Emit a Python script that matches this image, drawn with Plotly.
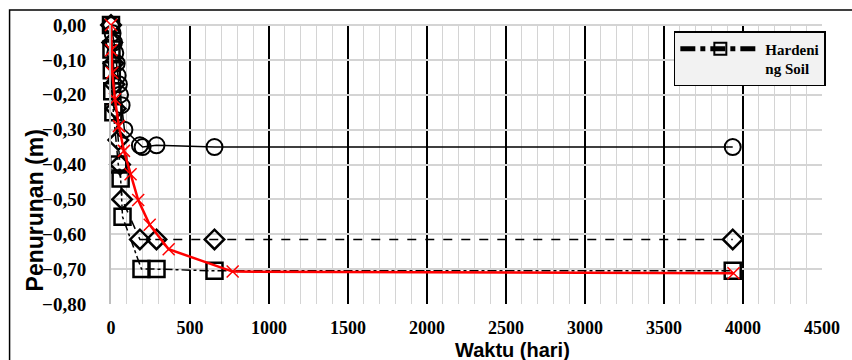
import plotly.graph_objects as go

# ---- data ----
t_circle = [0, 10, 19, 27, 36, 42, 50, 57, 67, 85, 183, 200, 288, 655, 3935]
s_circle = [0, -0.024, -0.05, -0.08, -0.11, -0.145, -0.17, -0.20, -0.23, -0.30, -0.345, -0.35, -0.345, -0.35, -0.35]

t_diamond = [0, 8, 15, 22, 30, 46, 57, 70, 183, 288, 655, 3935]
s_diamond = [0, -0.05, -0.11, -0.17, -0.24, -0.33, -0.40, -0.50, -0.615, -0.615, -0.615, -0.615]

t_square = [0, 3, 5, 8, 15, 46, 61, 73, 193, 288, 655, 3935]
s_square = [0, -0.07, -0.13, -0.19, -0.25, -0.40, -0.44, -0.55, -0.70, -0.70, -0.705, -0.705]

t_red = [0, 2, 8, 25, 50, 82, 124, 172, 245, 365, 770, 3940]
s_red = [0, -0.072, -0.137, -0.213, -0.29, -0.361, -0.428, -0.502, -0.573, -0.643, -0.707, -0.712]

legend_name = "Hardeni<br>ng Soil"
x_title = "Waktu (hari)"
y_title = "Penurunan (m)"

SERIF = "Liberation Serif, Times New Roman, serif"
SANS = "Liberation Sans, Arial, sans-serif"

fig = go.Figure()

fig.add_trace(go.Scatter(
    x=t_circle, y=s_circle, mode="lines+markers", showlegend=False, cliponaxis=False,
    line=dict(color="black", width=1.5),
    marker=dict(symbol="circle-open", size=16, color="black", line=dict(width=2)),
))
fig.add_trace(go.Scatter(
    x=t_diamond, y=s_diamond, mode="lines+markers", showlegend=False, cliponaxis=False,
    line=dict(color="black", width=1.5, dash="dash"),
    marker=dict(symbol="diamond-open", size=15, color="black", line=dict(width=2.5)),
))
fig.add_trace(go.Scatter(
    x=t_square, y=s_square, mode="lines+markers", name=legend_name, showlegend=True, cliponaxis=False,
    line=dict(color="black", width=1.5, dash="dashdot"),
    marker=dict(symbol="square-open", size=16, color="black", line=dict(width=2.5)),
))
fig.add_trace(go.Scatter(
    x=t_red, y=s_red, mode="lines+markers", showlegend=False, cliponaxis=False,
    line=dict(color="#ff0000", width=2.5),
    marker=dict(symbol="x-thin-open", size=12, color="#ff0000", line=dict(width=1.5, color="#ff0000")),
))

fig.update_layout(
    width=852, height=360,
    margin=dict(l=111, r=26, t=25, b=56),
    plot_bgcolor="white", paper_bgcolor="white",
    separators=",.",
    showlegend=True,
    legend=dict(
        x=(677 - 111) / 715, y=(304 - 31) / 279, xanchor="left", yanchor="top",
        bgcolor="#f2f2f2", bordercolor="black", borderwidth=1.5,
        font=dict(family=SERIF, size=15, color="black", weight="bold"),
        itemsizing="constant", valign="top", itemwidth=80,
        tracegroupgap=0,
    ),
    xaxis=dict(
        range=[0, 4500], dtick=500, tick0=0,
        showgrid=True, gridcolor="black", gridwidth=1.5,
        minor=dict(dtick=100, showgrid=True, gridcolor="#d4d4d4", gridwidth=1),
        zeroline=True, zerolinecolor="#bfbfbf", zerolinewidth=2,
        showline=False, ticks="", ticklabelstandoff=11,
        tickfont=dict(family=SERIF, size=18, color="black", weight="bold"),
    ),
    yaxis=dict(
        range=[-0.8, 0], dtick=0.1, tick0=0, tickformat=".2f",
        showgrid=True, gridcolor="#d4d4d4", gridwidth=1.5,
        zeroline=True, zerolinecolor="#d4d4d4", zerolinewidth=1.5,
        showline=True, linecolor="#bfbfbf", linewidth=2,
        ticks="", ticklabelstandoff=19,
        tickfont=dict(family=SERIF, size=19, color="black", weight="bold"),
    ),
    annotations=[
        dict(text=x_title, xref="paper", yref="paper", x=(515 - 111) / 715, y=(304 - 350) / 279,
             xanchor="center", yanchor="middle", showarrow=False,
             font=dict(family=SANS, size=20, color="black", weight="bold")),
        dict(text=y_title, xref="paper", yref="paper", x=(35 - 111) / 715, y=(304 - 210) / 279,
             xanchor="center", yanchor="middle", showarrow=False, textangle=-90,
             font=dict(family=SANS, size=23, color="black", weight="bold")),
    ],
    shapes=[
        dict(type="rect", xref="paper", yref="paper",
             x0=(9 - 111) / 715, x1=(860 - 111) / 715, y0=(304 - 370) / 279, y1=(304 - 10) / 279,
             line=dict(color="black", width=1.5), fillcolor="rgba(0,0,0,0)", layer="below"),
    ],
)

fig.write_html("out.html", config={"displayModeBar": False},
               post_script="document.body.style.margin='0';document.body.style.overflow='hidden';")
